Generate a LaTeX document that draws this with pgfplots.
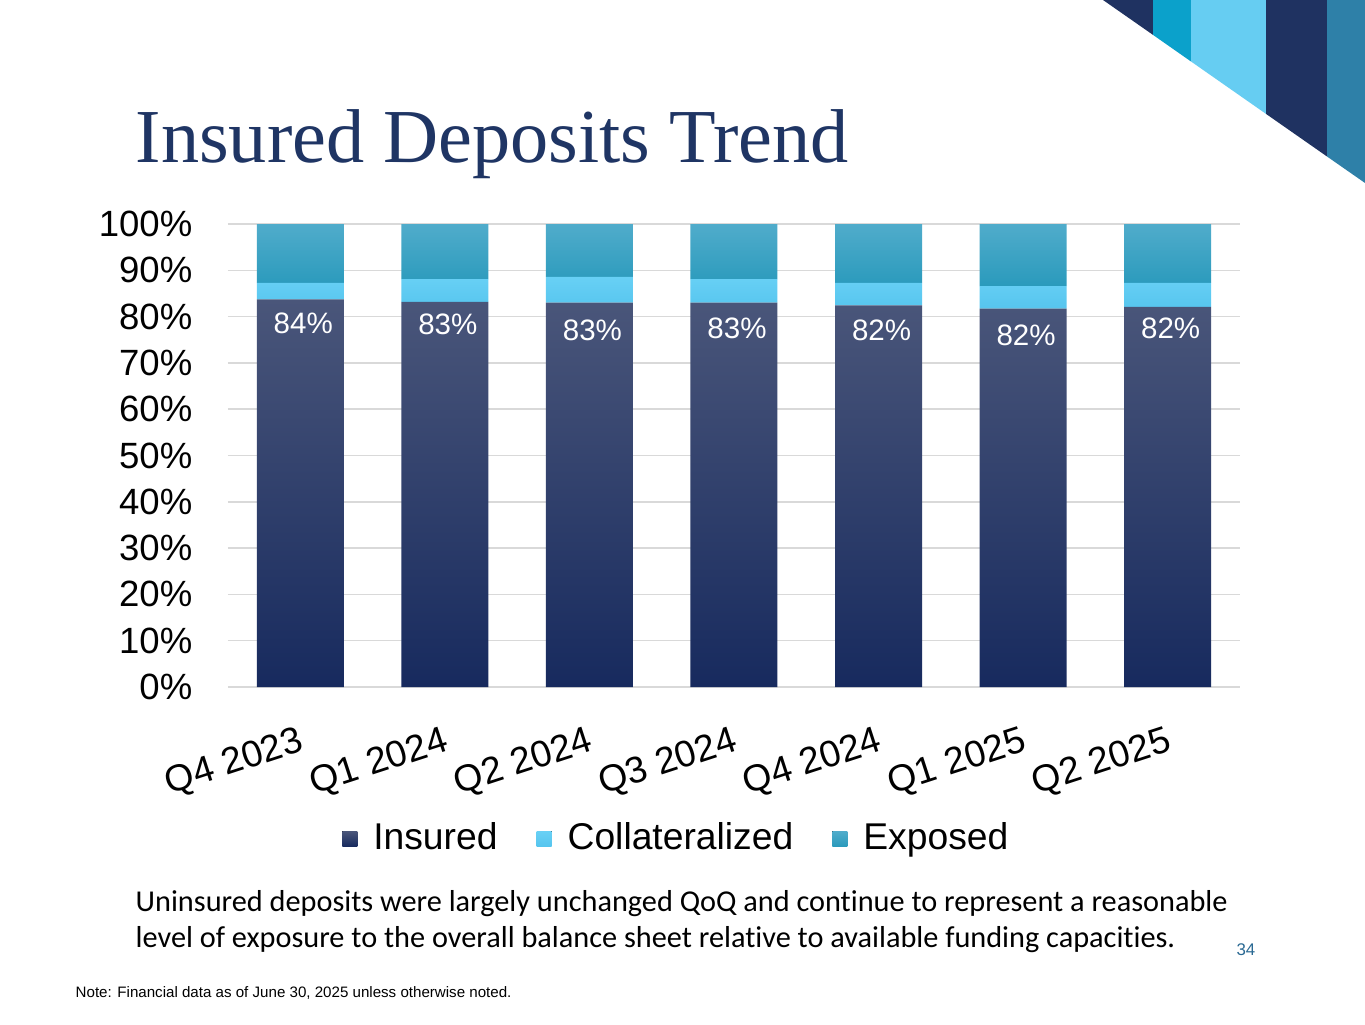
\documentclass[border=0pt]{standalone}
\usepackage{fontspec}
\setmainfont{Liberation Sans}
\newfontfamily\titlefont{Liberation Serif}
\newfontfamily\bodyfont[Ligatures=NoCommon]{Carlito}
\usepackage{pgfplots}
\pgfplotsset{compat=1.18}

\definecolor{navy}{RGB}{31,50,97}
\definecolor{titleblue}{RGB}{31,53,100}
\definecolor{stripecyan}{RGB}{11,161,203}
\definecolor{stripelight}{RGB}{102,205,242}
\definecolor{stripesteel}{RGB}{46,128,168}
\definecolor{insuredtop}{RGB}{74,86,122}
\definecolor{insuredbot}{RGB}{23,42,94}
\definecolor{collattop}{RGB}{104,208,245}
\definecolor{collatbot}{RGB}{86,197,238}
\definecolor{exposedtop}{RGB}{80,172,203}
\definecolor{exposedbot}{RGB}{42,154,188}
\definecolor{gridgray}{RGB}{217,217,217}

\pgfplotsset{panel/.style={
  at={(22.8mm,33.7mm)}, anchor=south west,
  scale only axis, width=101.2mm, height=46.3mm,
  xmin=-0.5, xmax=6.5, ymin=0, ymax=100}}

\begin{document}
\begin{tikzpicture}
\fill[white] (0,0) rectangle (136.5mm,102.4mm);

% decoration, title and notes in pixel units from the top left
\begin{scope}[x=0.1mm,y=-0.1mm,shift={(0mm,102.4mm)}]
  \fill[navy] (1103,0) -- (1153,0) -- (1153,34.9) -- cycle;
  \fill[stripecyan] (1153,0) -- (1191,0) -- (1191,61.5) -- (1153,34.9) -- cycle;
  \fill[stripelight] (1191,0) -- (1266,0) -- (1266,113.9) -- (1191,61.5) -- cycle;
  \fill[navy] (1266,0) -- (1327,0) -- (1327,156.5) -- (1266,113.9) -- cycle;
  \fill[stripesteel] (1327,0) -- (1365,0) -- (1365,183) -- (1327,156.5) -- cycle;

  \node[anchor=base west, inner sep=0, text=titleblue,
        font=\titlefont\fontsize{21.7}{24}\selectfont] at (135,163) {Insured Deposits Trend};

  \node[anchor=base west, inner sep=0, font=\bodyfont\fontsize{8.62}{11}\selectfont]
    at (135,911) {Uninsured deposits were largely unchanged QoQ and continue to represent a reasonable};
  \node[anchor=base west, inner sep=0, font=\bodyfont\fontsize{8.62}{11}\selectfont]
    at (135,947) {level of exposure to the overall balance sheet relative to available funding capacities.};

  \node[anchor=base east, inner sep=0, text=stripesteel!70!navy, font=\fontsize{4.8}{6}\selectfont]
    at (1256,955) {34};
  \node[anchor=base west, inner sep=0, font=\fontsize{4.3}{5}\selectfont]
    at (75,997) {Note: Financial data as of June 30, 2025 unless otherwise noted.};
\end{scope}

\begin{axis}[
  panel,
  ybar stacked, bar width=8.7mm,
  xtick=data,
  xticklabels={Q4 2023,Q1 2024,Q2 2024,Q3 2024,Q4 2024,Q1 2025,Q2 2025},
  ytick={0,10,...,100},
  yticklabel={\pgfmathprintnumber{\tick}\%},
  /pgf/number format/assume math mode=true,
  axis line style={draw=none},
  major tick length=0pt,
  ymajorgrids, grid style={gridgray, line width=0.45pt},
  y tick label style={font=\fontsize{10.4}{12}\selectfont, inner sep=0pt, xshift=-3.5mm},
  x tick label style={font=\fontsize{10.6}{12}\selectfont, rotate=18, anchor=north east,
                      inner sep=0pt, yshift=-3.5mm, xshift=-1.4mm},
  legend style={at={(0.1018,-0.328)}, anchor=west, draw=none, fill=none,
                legend columns=3, font=\fontsize{10.6}{12}\selectfont,
                /tikz/every odd column/.append style={column sep=0.9mm},
                /tikz/every even column/.append style={column sep=3.2mm}},
  legend image code/.code={\fill[#1] (0mm,-0.75mm) rectangle (1.5mm,0.75mm);},
]
\addplot[draw=none, top color=insuredtop, bottom color=insuredbot]
  coordinates {(0,83.7) (1,83.2) (2,83.0) (3,83.0) (4,82.4) (5,81.7) (6,82.1)};
\addplot[draw=none, top color=collattop, bottom color=collatbot]
  coordinates {(0,3.6) (1,4.9) (2,5.6) (3,5.1) (4,4.9) (5,4.9) (6,5.2)};
\addplot[draw=none, top color=exposedtop, bottom color=exposedbot]
  coordinates {(0,12.7) (1,11.9) (2,11.4) (3,11.9) (4,12.7) (5,13.4) (6,12.7)};
\legend{Insured,Collateralized,Exposed}
\end{axis}

% value labels inside the insured segments
\begin{axis}[panel, hide axis]
\addplot[draw=none, mark=none, point meta=explicit symbolic, nodes near coords,
  every node near coord/.append style={text=white, font=\fontsize{8.4}{10}\selectfont,
    anchor=center, xshift=0.3mm}]
  coordinates {(0,78.6) [84\%] (1,78.4) [83\%] (2,77.1) [83\%] (3,77.5) [83\%]
               (4,77.1) [82\%] (5,76.0) [82\%] (6,77.5) [82\%]};
\end{axis}

\pgfresetboundingbox
\path (0,0) rectangle (136.5mm,102.4mm);
\end{tikzpicture}
\end{document}
